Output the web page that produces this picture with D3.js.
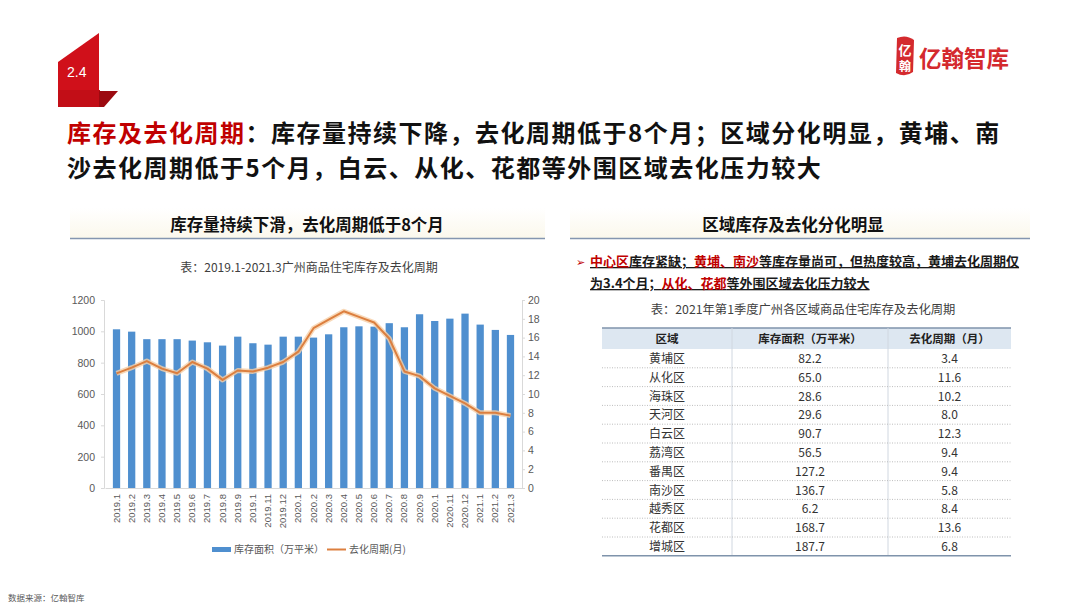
<!DOCTYPE html>
<html><head><meta charset="utf-8">
<script src="https://cdnjs.cloudflare.com/ajax/libs/d3/7.8.5/d3.min.js"></script>
<style>
body{margin:0;background:#fff;}
svg{display:block;font-family:"Noto Sans CJK SC","Noto Sans",sans-serif;}
</style></head>
<body><svg id="c" width="1080" height="608"></svg>
<script>
// ---- data ----
const monthLabels = ["2019.1","2019.2","2019.3","2019.4","2019.5","2019.6","2019.7","2019.8","2019.9","2019.1","2019.11","2019.12",
  "2020.1","2020.2","2020.3","2020.4","2020.5","2020.6","2020.7","2020.8","2020.9","2020.1","2020.11","2020.12",
  "2021.1","2021.2","2021.3"];
const inventory = [1013,998,950,950,950,941,930,909,966,924,915,966,966,960,981,1026,1032,1030,1052,1026,1109,1066,1081,1113,1043,1009,977];
const cycleMonths = [12.2,12.8,13.5,12.7,12.2,13.4,12.7,11.5,12.5,12.4,12.8,13.4,14.5,17.0,17.9,18.8,18.2,17.6,15.9,12.4,11.9,10.6,9.8,9.0,8.0,8.0,7.7];
const leftTicks = [0,200,400,600,800,1000,1200];
const rightTicks = [0,2,4,6,8,10,12,14,16,18,20];
const seriesNames = ["库存面积（万平米）","去化周期(月)"];

const tableHeaders = ["区域","库存面积（万平米）","去化周期（月）"];
const districts = ["黄埔区","从化区","海珠区","天河区","白云区","荔湾区","番禺区","南沙区","越秀区","花都区","增城区"];
const districtArea = ["82.2","65.0","28.6","29.6","90.7","56.5","127.2","136.7","6.2","168.7","187.7"];
const districtCycle = ["3.4","11.6","10.2","8.0","12.3","9.4","9.4","5.8","8.4","13.6","6.8"];

// ---- drawing ----
const svg = d3.select("#c");
const RED = "#c00000";

// badge
svg.append("path").attr("d","M58,62 L99,33 L99,91 L58,91 Z").attr("fill","#d0101a");
svg.append("rect").attr("x",58).attr("y",90).attr("width",42).attr("height",17).attr("fill","#c20e17");
svg.append("path").attr("d","M99,91 L118,91 L104,107 L99,107 Z").attr("fill","#9c0a10");
svg.append("text").attr("x",67).attr("y",77).attr("fill","#fff").attr("font-size",14)
  .attr("font-family","Liberation Sans, Arial, sans-serif").text("2.4");

// logo
svg.append("path").attr("d","M897,38 Q906,34 914,40 L913,72 Q905,78 896,73 Z").attr("fill","#d42a2e");
svg.append("text").attr("x",905).attr("y",55).attr("text-anchor","middle").attr("fill","#fff")
  .attr("font-size",13).attr("font-weight","bold").text("亿");
svg.append("text").attr("x",905).attr("y",71).attr("text-anchor","middle").attr("fill","#fff")
  .attr("font-size",12).attr("font-weight","bold").text("翰");
svg.append("text").attr("x",919).attr("y",67).attr("fill","#d42a2e").attr("font-size",22.5)
  .attr("font-weight","bold").text("亿翰智库");

// title
const t1 = svg.append("text").attr("x",67).attr("y",142).attr("font-size",24).attr("letter-spacing",1.5)
  .attr("font-weight","bold").attr("fill","#111");
t1.append("tspan").attr("fill",RED).text("库存及去化周期");
t1.append("tspan").text("：库存量持续下降，去化周期低于8个月；区域分化明显，黄埔、南");
svg.append("text").attr("x",67).attr("y",177).attr("font-size",24).attr("letter-spacing",1.5)
  .attr("font-weight","bold").attr("fill","#111")
  .text("沙去化周期低于5个月，白云、从化、花都等外围区域去化压力较大");

// subtitle bands
const defs = svg.append("defs");
const g = defs.append("linearGradient").attr("id","sg").attr("x1",0).attr("y1",0).attr("x2",0).attr("y2",1);
g.append("stop").attr("offset","0%").attr("stop-color","#fff");
g.append("stop").attr("offset","100%").attr("stop-color","#fbf8ec");
svg.append("rect").attr("x",70).attr("y",208).attr("width",475).attr("height",30).attr("fill","url(#sg)");
svg.append("rect").attr("x",570).attr("y",208).attr("width",460).attr("height",30).attr("fill","url(#sg)");
svg.append("line").attr("x1",70).attr("x2",545).attr("y1",238.5).attr("y2",238.5).attr("stroke","#8496b0").attr("stroke-width",1.5);
svg.append("line").attr("x1",570).attr("x2",1030).attr("y1",238.5).attr("y2",238.5).attr("stroke","#8496b0").attr("stroke-width",1.5);
svg.append("text").attr("x",307).attr("y",231).attr("text-anchor","middle").attr("font-size",16.5).attr("font-weight","bold")
  .attr("fill","#111").text("库存量持续下滑，去化周期低于8个月");
svg.append("text").attr("x",793).attr("y",231).attr("text-anchor","middle").attr("font-size",16.5).attr("font-weight","bold")
  .attr("fill","#111").text("区域库存及去化分化明显");

// chart caption
svg.append("text").attr("x",309).attr("y",272).attr("text-anchor","middle").attr("font-size",12)
  .attr("fill","#404040").text("表：2019.1-2021.3广州商品住宅库存及去化周期");

// scales
const idx = d3.range(monthLabels.length);
const x = d3.scaleBand().domain(idx).range([105,522]).padding(0.52);
const yL = d3.scaleLinear().domain([0,1200]).range([488,300]);
const yR = d3.scaleLinear().domain([0,20]).range([488,300]);

// axes
const axL = svg.append("g").attr("transform","translate(104,0)")
  .call(d3.axisLeft(yL).tickValues(leftTicks).tickFormat(d3.format("d")).tickSize(3).tickPadding(6));
const axR = svg.append("g").attr("transform","translate(522,0)")
  .call(d3.axisRight(yR).tickValues(rightTicks).tickFormat(d3.format("d")).tickSize(3).tickPadding(3));
[axL,axR].forEach(a=>{
  a.selectAll("path").attr("stroke","#d9d9d9");
  a.selectAll("line").attr("stroke","#d9d9d9");
  a.selectAll("text").attr("fill","#595959").attr("font-size",10.5).attr("font-family","Liberation Sans, Arial, sans-serif");
});
const axX = svg.append("g").attr("transform","translate(0,488)")
  .call(d3.axisBottom(x).tickSize(0).tickPadding(6).tickFormat(i=>monthLabels[i]));
axX.select("path").attr("stroke","#d9d9d9");
axX.selectAll("text").attr("fill","#595959").attr("font-size",9.5).attr("font-family","Liberation Sans, Arial, sans-serif")
  .attr("transform","rotate(-90)").attr("text-anchor","end")
  .attr("x",-6).attr("y",0).attr("dy","0.32em");

// bars
svg.append("g").selectAll("rect").data(inventory).join("rect")
  .attr("x",(d,i)=>x(i)).attr("width",x.bandwidth())
  .attr("y",d=>yL(d)).attr("height",d=>yL(0)-yL(d)).attr("fill","#4f8fcf");

// line
const line = d3.line().x((d,i)=>x(i)+x.bandwidth()/2).y(d=>yR(d));
svg.append("path").datum(cycleMonths).attr("d",line).attr("fill","none").attr("stroke","#f6cfa8").attr("stroke-width",5).attr("stroke-linejoin","round").attr("opacity",0.8);
svg.append("path").datum(cycleMonths).attr("d",line).attr("fill","none").attr("stroke","#dc7f3f").attr("stroke-width",2).attr("stroke-linejoin","round");

// legend
svg.append("rect").attr("x",212).attr("y",547).attr("width",19).attr("height",5).attr("fill","#4f8fcf");
svg.append("text").attr("x",234).attr("y",553).attr("font-size",10).attr("fill","#595959").text(seriesNames[0]);
svg.append("line").attr("x1",327).attr("x2",346).attr("y1",549.5).attr("y2",549.5).attr("stroke","#dc7f3f").attr("stroke-width",2);
svg.append("text").attr("x",349).attr("y",553).attr("font-size",10).attr("fill","#595959").text(seriesNames[1]);

// bullet text
svg.append("text").attr("x",576).attr("y",266).attr("font-size",11).attr("fill",RED).text("➢");
const b1 = svg.append("text").attr("x",590).attr("y",266).attr("font-size",13).attr("font-weight","bold")
  .attr("fill","#1a1a1a").attr("text-decoration","underline");
b1.append("tspan").attr("fill",RED).text("中心区");
b1.append("tspan").text("库存紧缺；");
b1.append("tspan").attr("fill",RED).text("黄埔、南沙");
b1.append("tspan").text("等库存量尚可，但热度较高，黄埔去化周期仅");
const b2 = svg.append("text").attr("x",590).attr("y",288).attr("font-size",13).attr("font-weight","bold")
  .attr("fill","#1a1a1a").attr("text-decoration","underline");
b2.append("tspan").text("为3.4个月；");
b2.append("tspan").attr("fill",RED).text("从化、花都");
b2.append("tspan").text("等外围区域去化压力较大");

svg.append("text").attr("x",803).attr("y",314).attr("text-anchor","middle").attr("font-size",12.3)
  .attr("fill","#404040").text("表：2021年第1季度广州各区域商品住宅库存及去化周期");

// table
const colX = [602,732,888,1011];
const headTop = 328, headH = 21, rowH = 18.8;
svg.append("rect").attr("x",colX[0]).attr("y",headTop).attr("width",colX[3]-colX[0]).attr("height",headH).attr("fill","#dde7f1");
svg.append("line").attr("x1",colX[0]).attr("x2",colX[3]).attr("y1",headTop).attr("y2",headTop).attr("stroke","#7f93ab").attr("stroke-width",1.5);
const tableBottom = headTop+headH+rowH*districts.length;
[1,2].forEach(c=>svg.append("line").attr("x1",colX[c]).attr("x2",colX[c]).attr("y1",headTop).attr("y2",tableBottom).attr("stroke","#d0d7e0"));
const cx = [ (colX[0]+colX[1])/2, (colX[1]+colX[2])/2, (colX[2]+colX[3])/2 ];
tableHeaders.forEach((h,i)=>svg.append("text").attr("x",cx[i]).attr("y",headTop+15).attr("text-anchor","middle")
  .attr("font-size",11.5).attr("font-weight","bold").attr("fill","#222").text(h));
const rows = svg.append("g");
districts.forEach((d,i)=>{
  const y0 = headTop+headH+rowH*i;
  if(i>0) rows.append("line").attr("x1",colX[0]).attr("x2",colX[3]).attr("y1",y0).attr("y2",y0)
    .attr("stroke","#bdbdbd").attr("stroke-dasharray","1,1.5");
  [d,districtArea[i],districtCycle[i]].forEach((v,j)=>rows.append("text").attr("x",cx[j]).attr("y",y0+14)
    .attr("text-anchor","middle").attr("font-size",12).attr("fill","#333").text(v));
});
svg.append("line").attr("x1",colX[0]).attr("x2",colX[3]).attr("y1",tableBottom).attr("y2",tableBottom).attr("stroke","#7f93ab").attr("stroke-width",1.5);

// footer
svg.append("text").attr("x",8).attr("y",601).attr("font-size",8.5).attr("fill","#595959").text("数据来源：亿翰智库");
</script></body></html>
